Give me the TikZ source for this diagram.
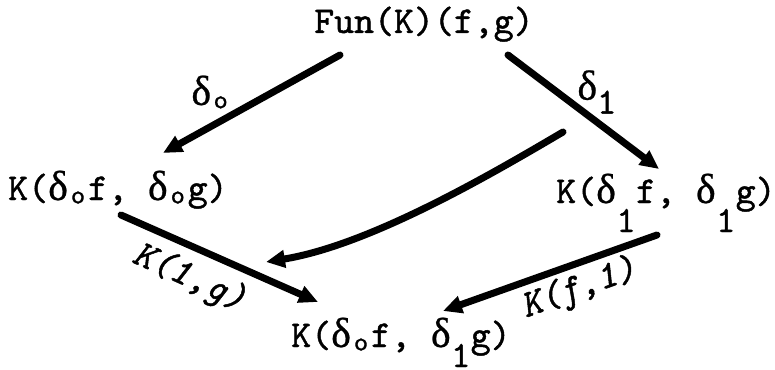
\documentclass[tikz,border=0pt]{standalone}
\usepackage{fontspec}
\newfontfamily\tw{lmmono10-regular.otf}[ItalicFont=lmmono10-italic.otf, FakeBold=1.2]
\newfontfamily\grk{Liberation Serif}[FakeBold=0.6]
\usetikzlibrary{arrows.meta}
\newcommand{\dlt}{\makebox[0.525em]{\grk\fontsize{42}{42}\selectfont δ}}
\newcommand{\sbo}{\makebox[0.525em]{\raisebox{-0.09em}{\fontsize{27}{27}\selectfont o}}}
\newcommand{\sbone}[1]{\makebox[0.525em]{\raisebox{#1}{\fontsize{37}{37}\selectfont 1}}}
\tikzset{
  obj/.style={inner sep=0pt, anchor=base west, font=\tw\fontsize{38}{40}\selectfont},
  lbl/.style={inner sep=0pt, font=\tw\fontsize{37}{38}\selectfont},
  ilbl/.style={inner sep=0pt, font=\tw\itshape\fontsize{38}{40}\selectfont},
  mor/.style={line width=7pt, line cap=round, -{Triangle[length=19pt,width=17pt]}}
}
\begin{document}
\begin{tikzpicture}[x=1pt,y=-1pt]
\useasboundingbox (0,0) rectangle (775,369);
\node[obj] (top) at (314,33) {Fun(K)(f,g)};
\node[obj] (left) at (8,200) {K(\dlt\sbo f, \dlt\sbo g)};
\node[obj] (right) at (556,203) {K(\dlt\sbone{-29pt}f, \dlt\sbone{-29pt}g)};
\node[obj] (bot) at (291,347) {K(\dlt\sbo f, \dlt\sbone{-20pt}g)};
% connector end points
\coordinate (a1s) at (340,55);  \coordinate (a1t) at (163,153);
\coordinate (a2s) at (508,55);  \coordinate (a2t) at (659,169);
\coordinate (a3s) at (563,132); \coordinate (a3t) at (266,262);
\coordinate (a4s) at (121,215); \coordinate (a4t) at (318,302);
\coordinate (a5s) at (657,235); \coordinate (a5t) at (443,311);
\draw[mor] (a1s) -- (a1t);
\draw[mor] (a2s) -- (a2t);
\draw[mor] (a3s) .. controls (490,175) and (370,245) .. (a3t);
\draw[mor] (a4s) -- (a4t);
\draw[mor] (a5s) -- (a5t);
% labels
\node[lbl] (l1) at (211,92) {\dlt\sbo};
\node[lbl] (l2) at (597,92) {\dlt\sbone{-14pt}};
\node[ilbl, rotate=-24] (l4) at (189,278) {K(1,g)};
\node[ilbl, rotate=20] (l5) at (579,289) {K(f,1)};
\end{tikzpicture}
\end{document}
